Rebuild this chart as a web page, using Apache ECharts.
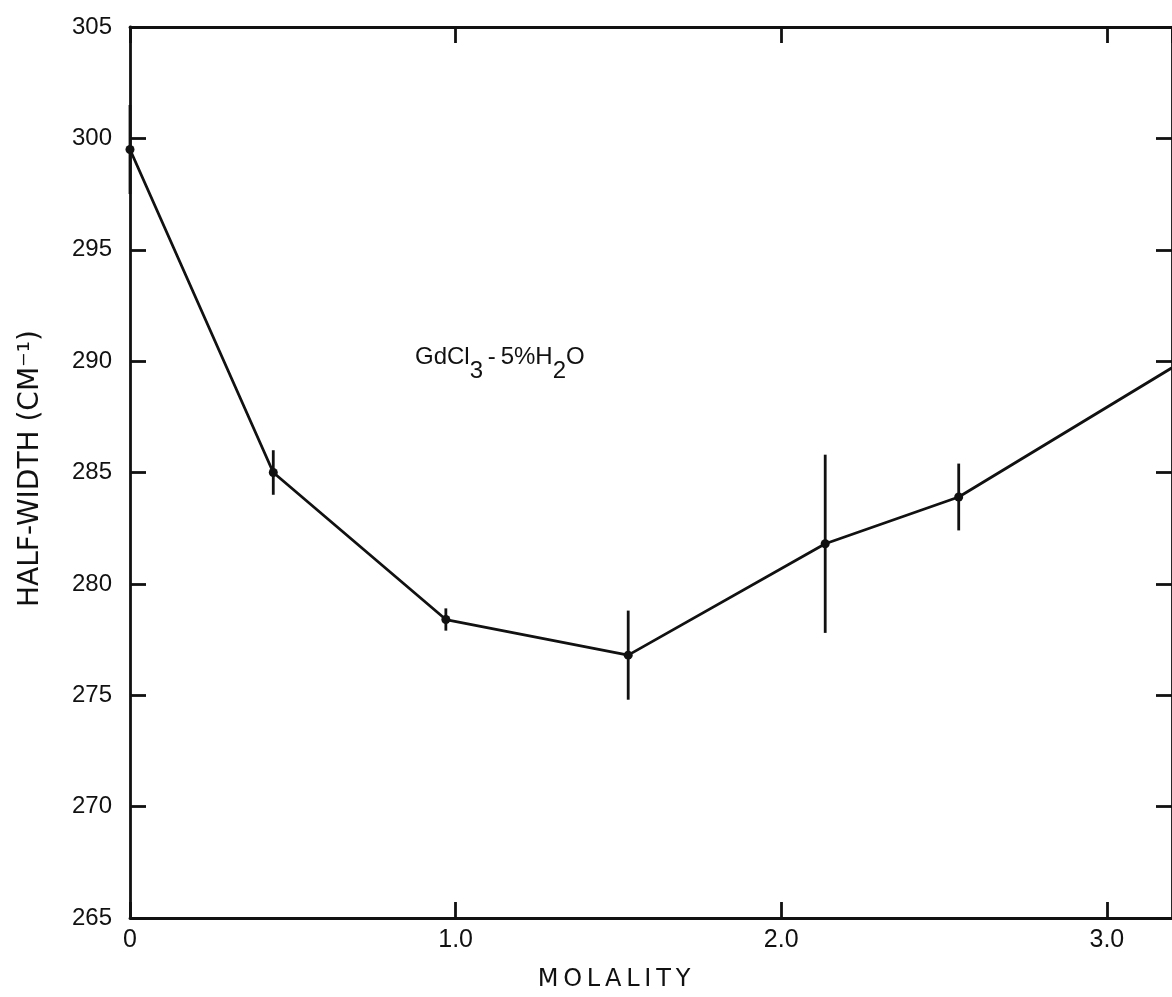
<!DOCTYPE html>
<html>
<head>
<meta charset="utf-8">
<script src="https://cdn.jsdelivr.net/npm/echarts@6/dist/echarts.min.js"></script>
<style>
  html, body { margin: 0; padding: 0; background: #fff; }
  #chart { width: 1172px; height: 997px; }
</style>
</head>
<body>
<div id="chart"></div>
<script>
// GdCl3 - 5% H2O: band half-width versus molality, with error bars
const molality   = [0, 0.44, 0.97, 1.53, 2.135, 2.545, 3.2];
const halfWidth  = [299.5, 285.0, 278.4, 276.8, 281.8, 283.9, 289.7];
const errorHalf  = [2.0, 1.0, 0.5, 2.0, 4.0, 1.5];
const xTicks     = [0, 1.0, 2.0, 3.0];
const yTicks     = [265, 270, 275, 280, 285, 290, 295, 300, 305];

const INK = '#111';
const NUM_FONT = '"Liberation Sans", Arial, sans-serif';
const TITLE_FONT = '"DejaVu Sans", sans-serif';

// spread letters a little with thin spaces
function spaced(s) { return s.split('').join('\u2009'); }

const lineData = molality.map((m, i) => {
  const item = { value: [m, halfWidth[i]] };
  if (i >= errorHalf.length) item.symbol = 'none'; // curve runs on past the frame
  return item;
});
const errData = errorHalf.map((e, i) => [molality[i], halfWidth[i] - e, halfWidth[i] + e]);

const chart = echarts.init(document.getElementById('chart'), null, { renderer: 'canvas' });

const frameAxis = {
  axisLine: { show: true, onZero: false, lineStyle: { color: INK, width: 2.8 } },
  axisTick: { show: true, inside: true, length: 16, lineStyle: { color: INK, width: 2.8 } },
  splitLine: { show: false }
};

chart.setOption({
  animation: false,
  backgroundColor: '#fff',
  grid: { left: 130, right: -8, top: 27, bottom: 79, containLabel: false },
  xAxis: [
    Object.assign({
      type: 'value', position: 'bottom',
      min: 0, max: 3.2, interval: 1,
      axisLabel: {
        show: true, margin: 10, color: INK, fontSize: 25, fontFamily: NUM_FONT,
        showMaxLabel: false,
        formatter: v => (xTicks.indexOf(v) < 0 ? '' : (v === 0 ? '0' : v.toFixed(1)))
      },
      name: spaced('MOLALITY'),
      nameLocation: 'middle',
      nameGap: 50,
      nameTextStyle: { color: INK, fontSize: 24, fontFamily: TITLE_FONT, padding: [0, 74, 0, 0] }
    }, frameAxis),
    Object.assign({
      type: 'value', position: 'top',
      min: 0, max: 3.2, interval: 1,
      axisLabel: { show: false }
    }, frameAxis)
  ],
  yAxis: [
    Object.assign({
      type: 'value', position: 'left',
      min: 265, max: 305, interval: 5,
      axisLabel: {
        show: true, margin: 18, color: INK, fontSize: 24, fontFamily: NUM_FONT,
        formatter: v => (yTicks.indexOf(v) < 0 ? '' : String(v))
      },
      name: 'HALF-WIDTH (CM\u207B\u00B9)',
      nameLocation: 'middle',
      nameGap: 85,
      nameRotate: 90,
      nameTextStyle: { color: INK, fontSize: 28, fontFamily: TITLE_FONT, padding: [0, 0, 0, 8] }
    }, frameAxis),
    Object.assign({
      type: 'value', position: 'right',
      min: 265, max: 305, interval: 5,
      axisLabel: { show: false }
    }, frameAxis)
  ],
  series: [
    {
      type: 'line',
      xAxisIndex: 0, yAxisIndex: 0,
      data: lineData,
      symbol: 'circle',
      symbolSize: 9,
      itemStyle: { color: INK },
      lineStyle: { color: INK, width: 2.8 },
      clip: true,
      z: 3
    },
    {
      type: 'custom',
      xAxisIndex: 0, yAxisIndex: 0,
      data: errData,
      renderItem: (params, api) => {
        const lo = api.coord([api.value(0), api.value(1)]);
        const hi = api.coord([api.value(0), api.value(2)]);
        return {
          type: 'line',
          shape: { x1: lo[0], y1: lo[1], x2: hi[0], y2: hi[1] },
          style: { stroke: INK, lineWidth: 2.8 }
        };
      },
      z: 2
    }
  ],
  graphic: [
    {
      type: 'text',
      left: 415,
      top: 345,
      style: {
        text: '{t|GdCl}{s|3}{t|\u2009-\u20095%H}{s|2}{t|O}',
        fill: INK,
        rich: {
          t: { fontSize: 24, fontFamily: NUM_FONT, fill: INK, verticalAlign: 'top' },
          s: { fontSize: 24, fontFamily: NUM_FONT, fill: INK, verticalAlign: 'bottom', padding: [14, 0, 0, 0] }
        }
      }
    }
  ]
});
</script>
</body>
</html>
